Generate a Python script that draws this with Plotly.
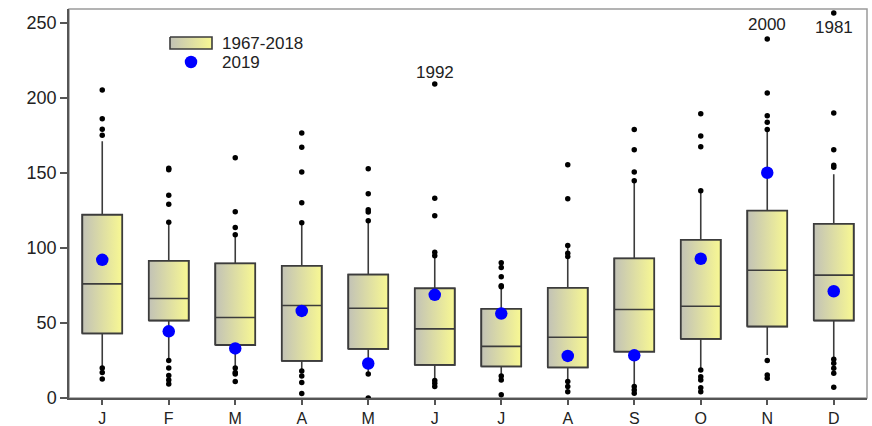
import plotly.graph_objects as go

months = ["J", "F", "M", "A", "M", "J", "J", "A", "S", "O", "N", "D"]
q1 = [43, 51.6, 35.3, 24.7, 32.7, 22, 21, 20.4, 30.9, 39.3, 47.6, 51.6]
median = [76, 66.2, 53.6, 61.6, 59.8, 46, 34.4, 40.4, 58.9, 61.1, 85.1, 81.8]
q3 = [122, 91.3, 89.6, 88, 82.2, 73, 59.3, 73.3, 92.9, 105.3, 124.7, 116]
whisk_lo = [21, 25, 20, 18, 16, 11.6, 14.7, 11, 7.6, 18.7, 28.7, 25.8]
whisk_hi = [171, 117, 108, 116.7, 118, 97, 74.7, 101.6, 144.7, 138, 177.6, 149]
outliers = [
    [205, 186, 179, 175, 20, 17, 12.7],
    [153, 152, 135, 129, 117, 25, 20, 15, 12, 9.3],
    [160, 124, 113.6, 108.7, 20, 17, 16, 11],
    [176.4, 167, 150.4, 130, 116.7, 18, 14.7, 10.4, 3],
    [152.7, 136, 125.3, 123.8, 118, 16, 0],
    [209, 133, 121.3, 97, 94.7, 11.6, 9.8, 7.6],
    [90, 86.9, 80.7, 74.7, 74, 14.7, 12, 2.2],
    [155.3, 132.7, 101.6, 96.4, 94.2, 11, 7.6, 4.2],
    [178.7, 165.3, 150.4, 144.7, 7.6, 5.3, 3.1],
    [189.3, 174.4, 167.3, 138, 18.7, 14.2, 12, 6.9, 4.2],
    [239, 203, 188, 183.6, 178.7, 24.9, 15.3, 13.1],
    [256.4, 189.8, 165.3, 154.9, 153.6, 25.8, 23.1, 19.8, 16.4, 7.1],
]
obs_2019 = [92, 44.4, 33, 58, 23, 68.7, 56.2, 28, 28.4, 92.7, 150, 71.1]
labels_years = ["1992", "2000", "1981"]
labels_month_idx = [5, 10, 11]
labels_y = [216.5, 249, 246.5]
legend_names = ["1967-2018", "2019"]

half = 0.3
grad = [[0, "#c2c2b6"], [1, "#f8f893"]]
edge = "#3c3c3c"
W, H = 872, 426
ML, MR, MT, MB = 69, 5, 9, 28

fig = go.Figure()

# whiskers via a box trace with precomputed stats
fig.add_trace(go.Box(
    x=list(range(len(months))), q1=q1, median=median, q3=q3,
    lowerfence=whisk_lo, upperfence=whisk_hi,
    width=2 * half, whiskerwidth=0,
    fillcolor="rgba(0,0,0,0)", line=dict(color=edge, width=1.6),
    showlegend=False, boxpoints=False, hoverinfo="skip",
))

# gradient box bodies
for i in range(len(months)):
    fig.add_trace(go.Scatter(
        x=[i - half, i + half, i + half, i - half, i - half],
        y=[q1[i], q1[i], q3[i], q3[i], q1[i]],
        mode="lines", fill="toself",
        fillgradient=dict(type="horizontal", colorscale=grad),
        line=dict(color=edge, width=1.8),
        showlegend=False, hoverinfo="skip",
    ))

# medians
mx, my = [], []
for i, m in enumerate(median):
    mx += [i - half, i + half, None]
    my += [m, m, None]
fig.add_trace(go.Scatter(x=mx, y=my, mode="lines",
                         line=dict(color=edge, width=1.6),
                         showlegend=False, hoverinfo="skip"))

# outliers
ox, oy = [], []
for i, vals in enumerate(outliers):
    for v in vals:
        ox.append(i)
        oy.append(v)
fig.add_trace(go.Scatter(x=ox, y=oy, mode="markers",
                         marker=dict(color="black", size=5.5),
                         showlegend=False))

# 2019
fig.add_trace(go.Scatter(x=list(range(len(months))), y=obs_2019, mode="markers",
                         marker=dict(color="#0000ff", size=12.5),
                         showlegend=False))

for t, xi, yv in zip(labels_years, labels_month_idx, labels_y):
    fig.add_annotation(x=xi, y=yv, text=t, showarrow=False,
                       font=dict(size=17, color="#222222"))

# hand-made legend on a pixel-scaled overlay axis pair
fig.add_trace(go.Scatter(
    x=[170, 212, 212, 170, 170], y=[37, 37, 49, 49, 37],
    xaxis="x2", yaxis="y2", mode="lines", fill="toself",
    fillgradient=dict(type="horizontal", colorscale=grad),
    line=dict(color=edge, width=1.6), showlegend=False, hoverinfo="skip"))
fig.add_trace(go.Scatter(
    x=[191], y=[62], xaxis="x2", yaxis="y2", mode="markers",
    marker=dict(color="#0000ff", size=12.5), showlegend=False, hoverinfo="skip"))
for name, yy in zip(legend_names, [43, 62]):
    fig.add_annotation(x=220, y=yy, xref="x2", yref="y2", text=name,
                       showarrow=False, xanchor="left",
                       font=dict(size=17, color="#222222"))

fig.update_layout(
    width=W, height=H,
    margin=dict(l=ML, r=MR, t=MT, b=MB, autoexpand=False),
    plot_bgcolor="white", paper_bgcolor="white",
    font=dict(family="Liberation Sans, Arial, sans-serif", size=16, color="#222222"),
    showlegend=False,
    xaxis2=dict(overlaying="x", range=[ML, W - MR], visible=False, fixedrange=True),
    yaxis2=dict(overlaying="y", range=[H - MB, MT], visible=False, fixedrange=True),
)
fig.layout.xaxis.update(range=[-0.5, 11.5], tickvals=list(range(12)), ticktext=months,
                        showgrid=False, zeroline=False, showline=True, linecolor="#555555",
                        linewidth=1.5, ticks="outside", ticklen=5, automargin=False,
                        tickcolor="#555555", tickwidth=1.5, tickfont=dict(size=16))
fig.layout.yaxis.update(range=[0, 259], tickvals=[0, 50, 100, 150, 200, 250],
                        showgrid=False, zeroline=False, showline=True, linecolor="#555555",
                        linewidth=1.5, ticks="outside", ticklen=7, tickcolor="#555555",
                        tickwidth=1.5, automargin=False, tickfont=dict(size=18))
# frame on top/right
fig.add_shape(type="rect", xref="paper", yref="paper", x0=0, y0=0, x1=1, y1=1,
              line=dict(color="#9a9a9a", width=1.5), layer="below")

fig.write_html("out.html", config={"displayModeBar": False},
               post_script="document.body.style.margin='0px';"
                           "document.body.style.overflow='hidden';")
